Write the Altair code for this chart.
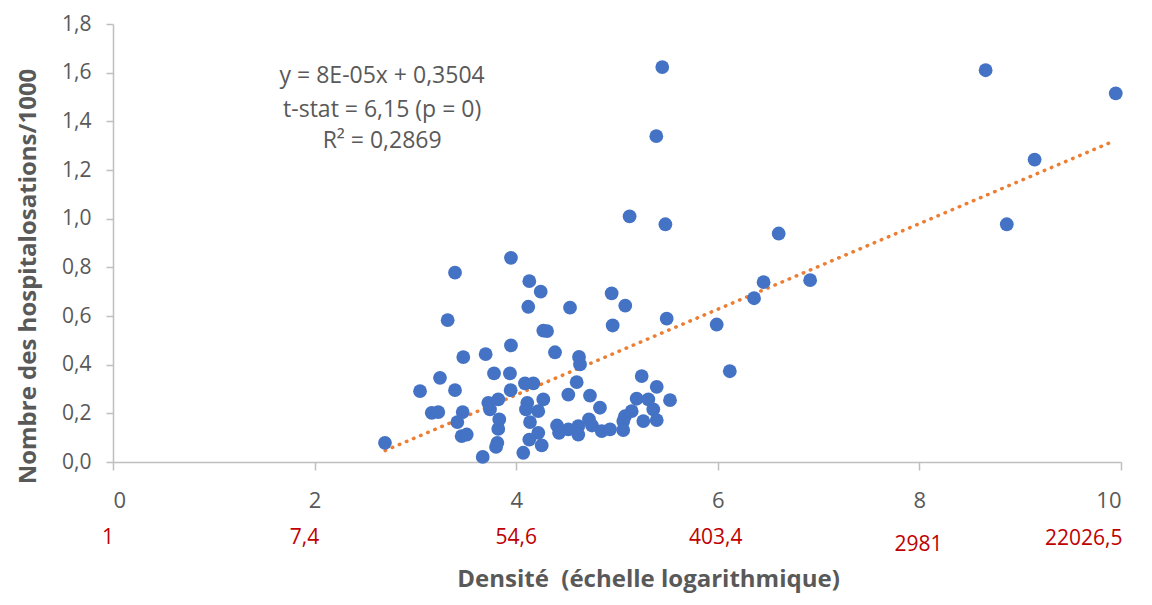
import altair as alt
import pandas as pd

# Scatter data: log(density) vs hospitalisations/1000
x_vals = [2.698, 3.046, 3.244, 3.320, 3.393, 3.393, 3.162, 3.227, 3.475, 3.469,
          3.416, 3.459, 3.509, 3.697, 3.668, 3.780, 3.723, 3.822, 3.740, 3.832,
          3.822, 3.813, 3.800, 3.948, 3.948, 3.938, 3.945, 4.087, 4.170, 4.110,
          4.097, 4.219, 4.137, 4.219, 4.130, 4.253, 4.070, 4.269, 4.130, 4.243,
          4.120, 4.269, 4.306, 4.385, 4.534, 4.623, 4.633, 4.600, 4.517, 4.732,
          4.831, 4.405, 4.517, 4.616, 4.616, 4.722, 4.752, 4.425, 4.848, 4.931,
          4.947, 5.082, 4.957, 5.245, 5.394, 5.526, 5.195, 5.311, 5.360, 5.146,
          5.079, 5.062, 5.261, 5.394, 5.062, 5.449, 5.390, 5.125, 5.480, 5.493,
          5.989, 6.119, 6.360, 6.454, 6.604, 6.916, 8.657, 8.867, 9.143, 9.948]
y_vals = [0.079, 0.291, 0.346, 0.583, 0.778, 0.295, 0.202, 0.205, 0.431, 0.205,
          0.164, 0.106, 0.113, 0.443, 0.021, 0.364, 0.243, 0.257, 0.216, 0.175,
          0.136, 0.079, 0.062, 0.839, 0.479, 0.364, 0.295, 0.323, 0.323, 0.243,
          0.216, 0.209, 0.164, 0.120, 0.092, 0.068, 0.038, 0.257, 0.743, 0.700,
          0.638, 0.540, 0.538, 0.451, 0.634, 0.432, 0.401, 0.328, 0.277, 0.273,
          0.223, 0.150, 0.134, 0.147, 0.113, 0.175, 0.150, 0.120, 0.127, 0.134,
          0.693, 0.643, 0.561, 0.353, 0.309, 0.254, 0.260, 0.257, 0.216, 0.209,
          0.188, 0.168, 0.168, 0.172, 0.131, 1.623, 1.339, 1.009, 0.977, 0.589,
          0.565, 0.373, 0.673, 0.739, 0.939, 0.747, 1.610, 0.977, 1.243, 1.515]

# Trend line end points
trend_x = [2.70, 9.89]
trend_y = [0.047, 1.312]

# Annotation
ann_lines = ["y = 8E-05x + 0,3504", "t-stat = 6,15 (p = 0)", "R² = 0,2869"]
ann_x = [2.67, 2.67, 2.67]
ann_y = [1.585, 1.445, 1.318]

# Secondary (original scale) labels, placed below the axis
red_labels = ["1", "7,4", "54,6", "403,4", "2981", "22026,5"]
red_x = [-0.05, 1.90, 4.00, 5.98, 7.99, 9.63]
red_y = [-0.312, -0.312, -0.312, -0.312, -0.341, -0.316]

x_ticks = [0, 2, 4, 6, 8, 10]
y_ticks = [0.0, 0.2, 0.4, 0.6, 0.8, 1.0, 1.2, 1.4, 1.6, 1.8]

FONT = "Open Sans"
GREY = "#595959"

df = pd.DataFrame({"x": x_vals, "y": y_vals})
df_trend = pd.DataFrame({"x": trend_x, "y": trend_y})
df_ann = pd.DataFrame({"x": ann_x, "y": ann_y, "t": ann_lines})
df_red = pd.DataFrame({"x": red_x, "y": red_y, "t": red_labels})

xscale = alt.Scale(domain=[0, 10], nice=False, zero=False)
yscale = alt.Scale(domain=[0, 1.8], nice=False)

xaxis = alt.Axis(values=x_ticks, grid=False, title="Densité\u00a0 (échelle logarithmique)",
                 labelExpr="format(datum.value, 'd')",
                 labelFontSize=22, labelColor=GREY, labelFont=FONT, labelPadding=20,
                 titleFontSize=24, titleFont=FONT, titleFontWeight="bold", titleColor=GREY,
                 titleX=535, titleY=117, titleAlign="center", titleBaseline="middle",
                 domainColor="#BFBFBF", domainWidth=1.5, tickColor="#BFBFBF",
                 tickWidth=1.5, tickSize=8)
yaxis = alt.Axis(values=y_ticks, grid=False, title="Nombre des hospitalosations/1000",
                 labelExpr="replace(format(datum.value, '.1f'), '.', ',')",
                 labelFontSize=21, labelColor=GREY, labelFont=FONT, labelPadding=15,
                 titleFontSize=24, titleFont=FONT, titleFontWeight="bold", titleColor=GREY,
                 titleX=-85, titleY=252, titleAlign="center", titleBaseline="middle",
                 domainColor="#BFBFBF", domainWidth=1.5, tickColor="#BFBFBF",
                 tickWidth=1.5, tickSize=7)

trend = alt.Chart(df_trend).mark_line(
    color="#ED7D31", strokeWidth=3.5, strokeDash=[0.5, 7.2], strokeCap="round"
).encode(x=alt.X("x:Q", scale=xscale, axis=xaxis), y=alt.Y("y:Q", scale=yscale, axis=yaxis))

points = alt.Chart(df).mark_circle(size=190, color="#4472C4", opacity=1).encode(
    x=alt.X("x:Q", scale=xscale), y=alt.Y("y:Q", scale=yscale))

ann = alt.Chart(df_ann).mark_text(fontSize=23, font=FONT, color=GREY, align="center",
                                  baseline="middle").encode(
    x=alt.X("x:Q", scale=xscale), y=alt.Y("y:Q", scale=yscale), text="t:N")

red = alt.Chart(df_red).mark_text(fontSize=21, font=FONT, color="#C00000", align="center",
                                  baseline="middle").encode(
    x=alt.X("x:Q", scale=xscale), y=alt.Y("y:Q", scale=yscale), text="t:N")

chart = alt.layer(trend, points, ann, red).properties(
    width=1008, height=438,
    autosize=alt.AutoSizeParams(type="none"),
    padding={"left": 105, "top": 16, "right": 23, "bottom": 135},
).configure_view(stroke=None)

chart.save("out.html", embed_options={"renderer": "svg", "actions": False})
